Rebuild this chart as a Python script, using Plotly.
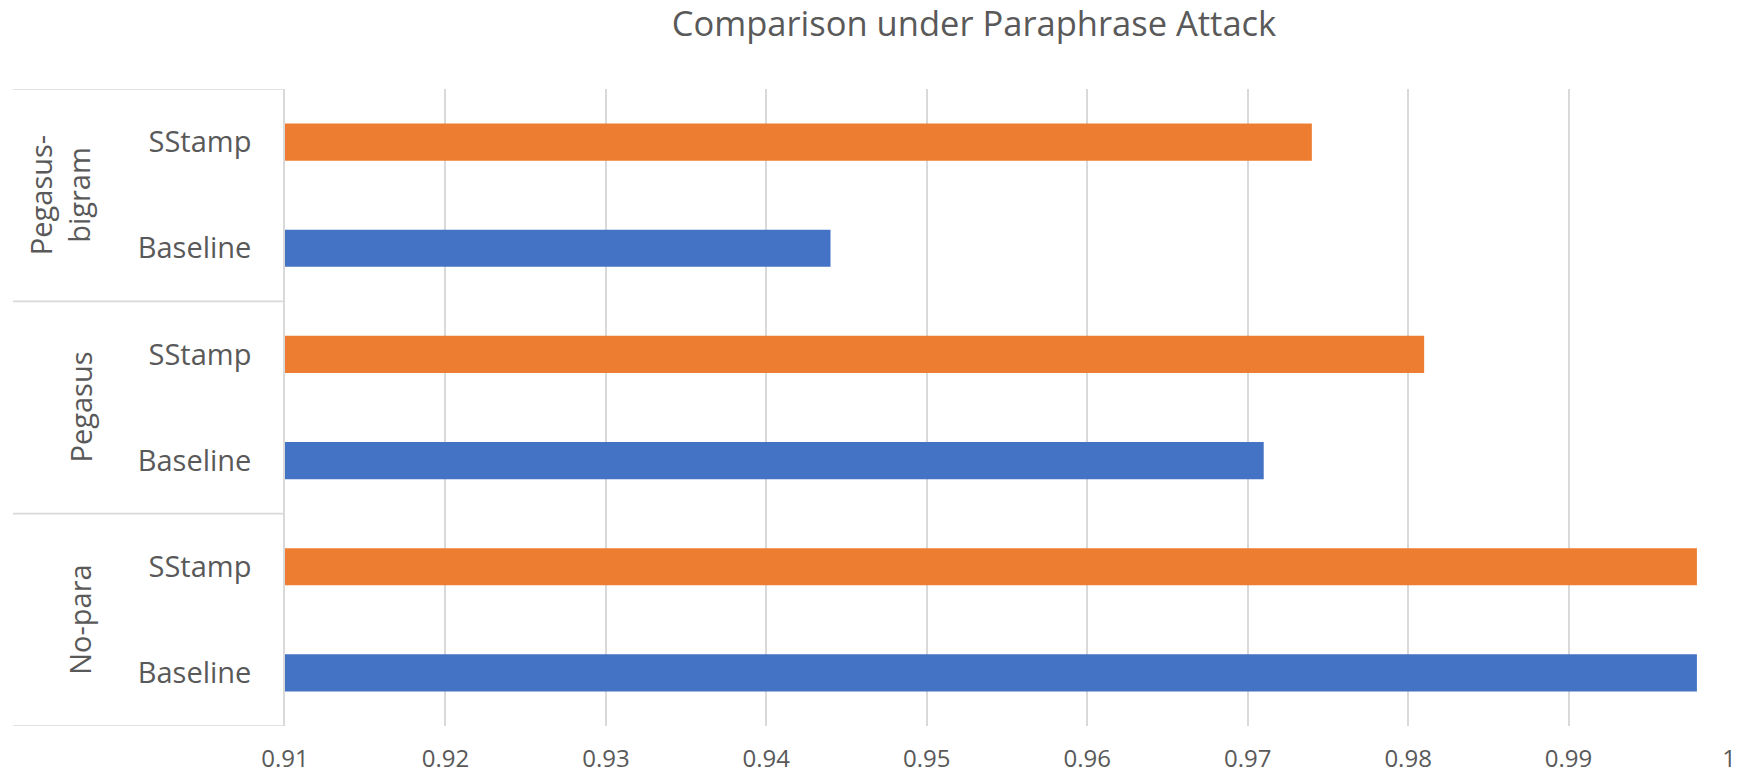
import plotly.graph_objects as go

# Paraphrase settings (bottom to top) and the two methods compared
groups = ["No-para", "Pegasus", "Pegasus-bigram"]
group_labels = ["No-para", "Pegasus", "Pegasus-<br>bigram"]
methods = ["Baseline", "SStamp"]

baseline_scores = [0.998, 0.971, 0.944]
sstamp_scores = [0.998, 0.981, 0.974]

x_tick_values = [0.91, 0.92, 0.93, 0.94, 0.95, 0.96, 0.97, 0.98, 0.99, 1.0]
x_tick_labels = ["0.91", "0.92", "0.93", "0.94", "0.95", "0.96", "0.97", "0.98", "0.99", "1"]

TEXT = "#595959"
GRID = "#D9D9D9"
FONT = "Open Sans"

# one category per (group, method) pair, ordered bottom to top
categories = [f"{g}|{m}" for g in groups for m in methods]
cat_text = [m for g in groups for m in methods]

fig = go.Figure()
fig.add_trace(go.Bar(
    y=[f"{g}|Baseline" for g in groups], x=baseline_scores, orientation="h",
    name="Baseline", marker=dict(color="#4472C4", line=dict(width=0)), width=0.35,
))
fig.add_trace(go.Bar(
    y=[f"{g}|SStamp" for g in groups], x=sstamp_scores, orientation="h",
    name="SStamp", marker=dict(color="#ED7D31", line=dict(width=0)), width=0.35,
))

L, R, T, B = 285, 10, 89, 52
W, H = 1739, 778
plot_w = W - L - R

# box lines around the grouped category labels
x_left = (13 - L) / plot_w
shapes = []
for yb in [-0.5, 1.5, 3.5, 5.5]:
    shapes.append(dict(type="line", xref="paper", yref="y", x0=x_left, x1=0,
                       y0=yb, y1=yb, line=dict(color=GRID, width=1.6)))

annotations = []
for i, lab in enumerate(group_labels):
    xc = 59 if "<br>" in lab else 80
    annotations.append(dict(
        text=lab, xref="paper", yref="y", x=(xc - L) / plot_w, y=2 * i + 0.5,
        xanchor="center", yanchor="middle", textangle=-90, showarrow=False,
        font=dict(family=FONT, size=29, color=TEXT),
    ))

fig.update_layout(
    width=W, height=H,
    margin=dict(l=L, r=R, t=T, b=B, autoexpand=False),
    paper_bgcolor="white", plot_bgcolor="white",
    showlegend=False, barmode="overlay",
    title=dict(text="Comparison under Paraphrase Attack",
               x=(974 - L) / plot_w, xref="paper", xanchor="center",
               y=1 - 24 / H, yref="container", yanchor="middle",
               font=dict(family=FONT, size=34.5, color=TEXT)),
    xaxis=dict(range=[0.91, 1.0], tickvals=x_tick_values, ticktext=x_tick_labels,
               showgrid=True, gridcolor=GRID, gridwidth=1.6, zeroline=False,
               showline=False, ticks="", ticklabelstandoff=16, automargin=False,
               tickfont=dict(family=FONT, size=24, color=TEXT)),
    yaxis=dict(type="category", categoryorder="array", categoryarray=categories,
               tickvals=categories, ticktext=cat_text, range=[-0.5, 5.5],
               showgrid=False, zeroline=False, showline=True, automargin=False,
               linecolor=GRID, linewidth=1.6, ticks="", ticklabelstandoff=26,
               tickfont=dict(family=FONT, size=29, color=TEXT)),
    shapes=shapes, annotations=annotations,
)

fig.write_html("out.html")
